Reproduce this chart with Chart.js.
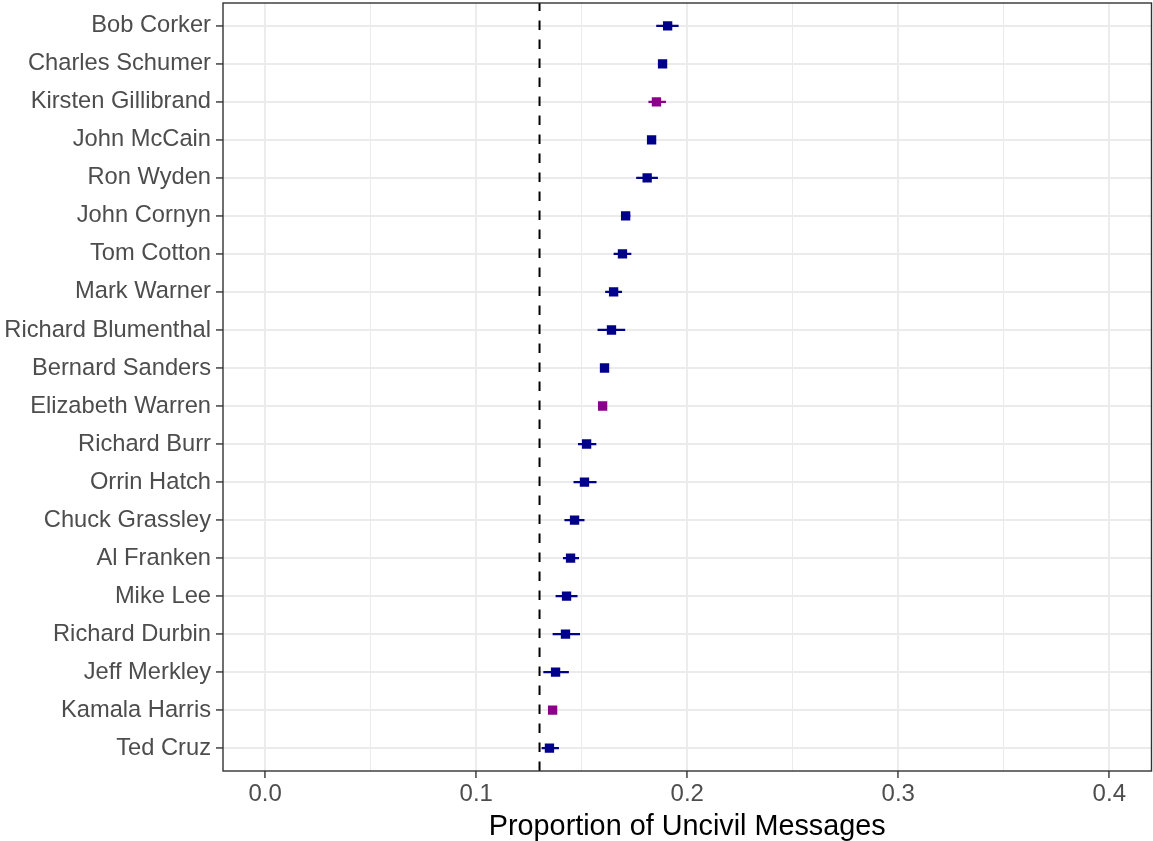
<!DOCTYPE html>
<html>
<head>
<meta charset="utf-8">
<script src="https://cdn.jsdelivr.net/npm/chart.js@4"></script>
<style>
  html, body { margin: 0; padding: 0; background: #fff; }
  #wrap { width: 1153px; height: 841px; position: relative; }
</style>
</head>
<body>
<div id="wrap"><canvas id="c"></canvas></div>
<script>
// ---- data ----
const senators = ["Bob Corker", "Charles Schumer", "Kirsten Gillibrand", "John McCain", "Ron Wyden",
  "John Cornyn", "Tom Cotton", "Mark Warner", "Richard Blumenthal", "Bernard Sanders",
  "Elizabeth Warren", "Richard Burr", "Orrin Hatch", "Chuck Grassley", "Al Franken",
  "Mike Lee", "Richard Durbin", "Jeff Merkley", "Kamala Harris", "Ted Cruz"];
const proportion = [0.1907, 0.1883, 0.1854, 0.1831, 0.1810, 0.1708, 0.1693, 0.1651, 0.1641, 0.1608,
  0.1599, 0.1523, 0.1513, 0.1466, 0.1447, 0.1428, 0.1423, 0.1376, 0.1362, 0.1347];
const lower = [0.1853, 0.1866, 0.1816, 0.1814, 0.1758, 0.1686, 0.1651, 0.1611, 0.1575, 0.1591,
  0.1585, 0.1482, 0.1461, 0.1418, 0.1411, 0.1376, 0.1362, 0.1318, 0.1348, 0.1310];
const upper = [0.1959, 0.1900, 0.1899, 0.1848, 0.1861, 0.1730, 0.1735, 0.1691, 0.1706, 0.1625,
  0.1613, 0.1569, 0.1570, 0.1513, 0.1487, 0.1480, 0.1492, 0.1439, 0.1376, 0.1392];
const highlighted = [false, false, true, false, false, false, false, false, false, false,
  true, false, false, false, false, false, false, false, true, false];
const referenceLine = 0.13;
const xMajorTicks = [0, 0.1, 0.2, 0.3, 0.4];
const xTickLabels = ["0.0", "0.1", "0.2", "0.3", "0.4"];
const xMinorTicks = [0.05, 0.15, 0.25, 0.35];
const xTitle = "Proportion of Uncivil Messages";

// ---- styling ----
const NAVY = '#00008B', PURPLE = '#8B008B';
const FONT = "'Liberation Sans', Arial, Helvetica, sans-serif";
const colorOf = i => highlighted[i] ? PURPLE : NAVY;

const pointData = proportion.map((v, i) => ({ x: v, y: i }));
const errData = [];
senators.forEach((s, i) => {
  errData.push({ x: lower[i], y: i });
  errData.push({ x: upper[i], y: i });
  errData.push({ x: upper[i], y: null });
});
const yMin = -0.6, yMax = senators.length - 1 + 0.6;

const borderPlugin = {
  id: 'panelBorder',
  afterDraw(chart) {
    const { ctx, chartArea: a } = chart;
    ctx.save();
    ctx.strokeStyle = '#333333';
    ctx.lineWidth = 1.4;
    ctx.strokeRect(a.left, a.top, a.right - a.left, a.bottom - a.top);
    ctx.restore();
  }
};

new Chart(document.getElementById('c'), {
  type: 'scatter',
  data: {
    datasets: [
      {
        label: 'points',
        data: pointData,
        pointStyle: 'rect',
        pointRadius: 6.6,
        pointBorderWidth: 0,
        pointBackgroundColor: proportion.map((v, i) => colorOf(i)),
        pointBorderColor: proportion.map((v, i) => colorOf(i)),
        order: 0
      },
      {
        label: 'errors',
        type: 'line',
        data: errData,
        showLine: true,
        spanGaps: false,
        pointRadius: 0,
        borderWidth: 2.2,
        borderColor: NAVY,
        segment: { borderColor: ctx => colorOf(errData[ctx.p0DataIndex].y ?? 0) },
        order: 1
      },
      {
        label: 'ref',
        type: 'line',
        data: [{ x: referenceLine, y: yMax }, { x: referenceLine, y: yMin }],
        showLine: true,
        pointRadius: 0,
        borderWidth: 2,
        borderColor: '#000',
        borderDash: [9.5, 9.5],
        order: 2
      }
    ]
  },
  options: {
    responsive: true,
    maintainAspectRatio: false,
    animation: false,
    events: [],
    layout: { autoPadding: false, padding: { top: 3, right: 1.5, left: 0, bottom: 0 } },
    plugins: { legend: { display: false }, tooltip: { enabled: false } },
    scales: {
      x: {
        type: 'linear',
        min: -0.02,
        max: 0.42,
        afterBuildTicks: s => {
          s.ticks = xMajorTicks.concat(xMinorTicks).sort((a, b) => a - b).map(v => ({ value: v }));
        },
        afterFit: s => { s.height = 70; s.paddingLeft = 0; s.paddingRight = 0; },
        ticks: {
          autoSkip: false,
          maxRotation: 0,
          padding: 2,
          color: '#4D4D4D',
          font: { family: FONT, size: 24 },
          callback: v => {
            const k = xMajorTicks.findIndex(t => Math.abs(t - v) < 1e-9);
            return k >= 0 ? xTickLabels[k] : '';
          }
        },
        grid: {
          color: '#EBEBEB',
          lineWidth: c => (xMajorTicks.some(t => Math.abs(t - c.tick.value) < 1e-9) ? 1.9 : 1.0),
          tickColor: c => (xMajorTicks.some(t => Math.abs(t - c.tick.value) < 1e-9) ? '#333333' : 'rgba(0,0,0,0)'),
          tickLength: 7,
          tickWidth: 1.4
        },
        border: { display: false },
        title: {
          display: true,
          text: xTitle,
          color: '#000',
          font: { family: FONT, size: 28.8, lineHeight: 1.0 },
          padding: { top: 0, bottom: 0 }
        }
      },
      y: {
        type: 'linear',
        reverse: true,
        min: yMin,
        max: yMax,
        afterBuildTicks: s => {
          s.ticks = senators.map((n, i) => ({ value: i }));
        },
        afterFit: s => { s.width = 223; s.paddingTop = 0; s.paddingBottom = 0; },
        ticks: {
          autoSkip: false,
          padding: 5,
          color: '#4D4D4D',
          font: { family: FONT, size: 23.7 },
          callback: v => senators[Math.round(v)]
        },
        grid: {
          color: '#EBEBEB',
          lineWidth: 1.9,
          tickColor: '#333333',
          tickLength: 7,
          tickWidth: 1.4
        },
        border: { display: false }
      }
    }
  },
  plugins: [borderPlugin]
});
</script>
</body>
</html>
